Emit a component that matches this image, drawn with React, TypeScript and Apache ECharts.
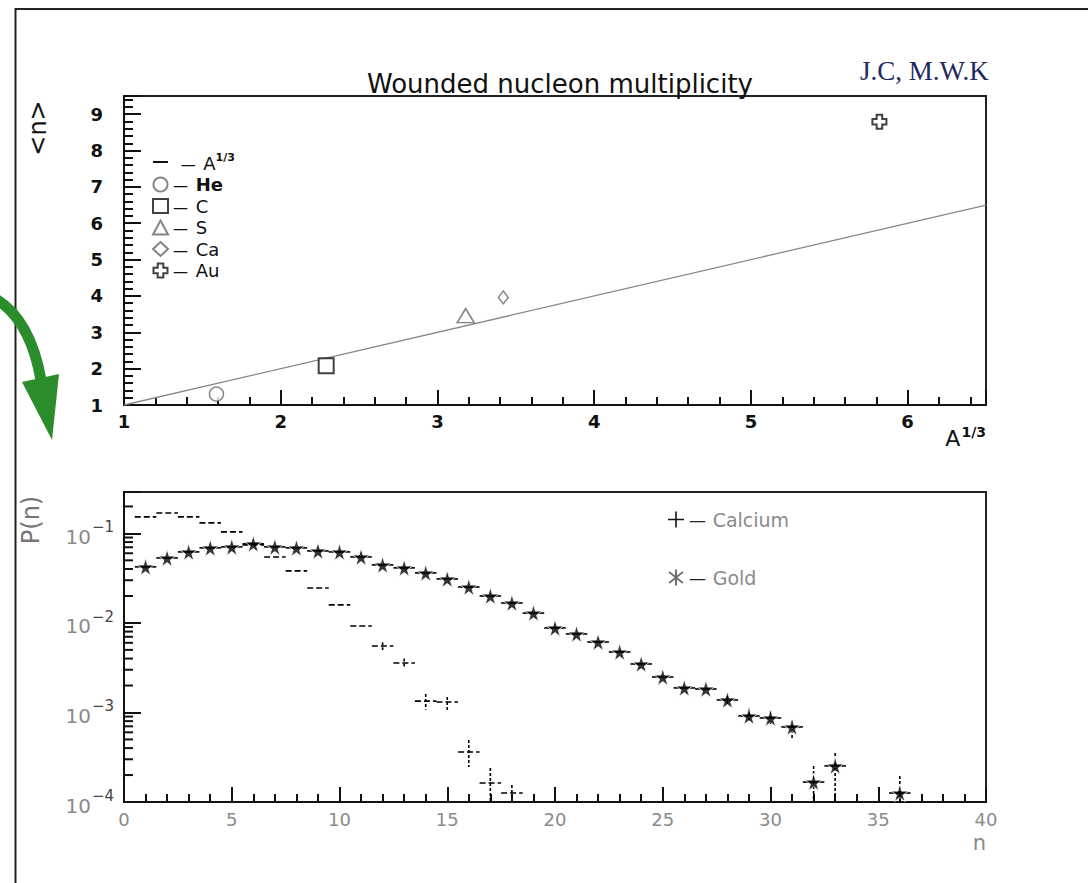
import React, { useEffect, useRef } from "react";
import * as echarts from "echarts";

// ---------- Top panel: <n> versus A^{1/3} ----------
const refLineX = [1, 6.5];
const refLineY = [1, 6.5];
const nuclei = ["He", "C", "S", "Ca", "Au"];
const nucleiA13 = [1.59, 2.29, 3.18, 3.42, 5.82];
const nucleiMeanN = [1.3, 2.08, 3.46, 3.96, 8.79];

// ---------- Bottom panel: P(n) ----------
const calciumN = [1, 2, 3, 4, 5, 6, 7, 8, 9, 10, 11, 12, 13, 14, 15, 16, 17, 18];
const calciumP = [0.153, 0.169, 0.153, 0.131, 0.104, 0.0745, 0.0546, 0.0381, 0.0246, 0.0159, 0.00924, 0.00553, 0.00357, 0.00134, 0.00131, 0.000362, 0.000163, 0.000126];
const calciumLo = [null, null, null, null, null, null, null, null, null, null, null, 0.0050, 0.0032, 0.00107, 0.00101, 0.000246, 0.0001, 0.0001];
const calciumHi = [null, null, null, null, null, null, null, null, null, null, null, 0.0061, 0.0040, 0.00161, 0.00149, 0.000493, 0.00024, 0.000155];

const goldN = [1, 2, 3, 4, 5, 6, 7, 8, 9, 10, 11, 12, 13, 14, 15, 16, 17, 18, 19, 20, 21, 22, 23, 24, 25, 26, 27, 28, 29, 30, 31, 32, 33, 36];
const goldP = [0.0423, 0.0532, 0.0621, 0.0689, 0.0707, 0.0764, 0.0707, 0.0689, 0.0637, 0.0621, 0.0546, 0.0445, 0.0412, 0.0362, 0.031, 0.0252, 0.02, 0.0167, 0.0129, 0.00879, 0.00754, 0.00613, 0.00474, 0.00348, 0.00249, 0.00188, 0.00183, 0.00138, 0.000914, 0.000868, 0.000689, 0.000167, 0.000253, 0.000126];
const goldLo = [null, null, null, null, null, null, null, null, null, null, null, null, null, null, null, null, null, null, null, null, null, null, null, null, null, null, null, 0.00118, 0.000784, 0.000744, 0.000519, 0.0001, 0.0001, 0.0001];
const goldHi = [null, null, null, null, null, null, null, null, null, null, null, null, null, null, null, null, null, null, null, null, null, null, null, null, null, null, null, 0.00153, 0.00112, 0.00104, 0.000824, 0.000253, 0.000353, 0.000195];

// log-axis minor tick positions
const logDecades = [1e-4, 1e-3, 1e-2, 1e-1];
const logMultipliers = [2, 3, 4, 5, 6, 7, 8, 9];
const pMax = 0.29;

const FONT = "DejaVu Sans";
const GRAY = "#8a8a8a";

const nucleusSymbols: Record<string, any> = {
  He: { symbol: "circle", symbolSize: 14, itemStyle: { color: "#fff", borderColor: "#666", borderWidth: 1.5 } },
  C: { symbol: "rect", symbolSize: 15, itemStyle: { color: "#fff", borderColor: "#111", borderWidth: 2 } },
  S: { symbol: "triangle", symbolSize: [17, 14], itemStyle: { color: "#fff", borderColor: "#666", borderWidth: 1.5 } },
  Ca: { symbol: "diamond", symbolSize: [10, 13], itemStyle: { color: "#fff", borderColor: "#666", borderWidth: 1.5 } },
  Au: { symbol: "path://M3,0H7V3H10V7H7V10H3V7H0V3H3Z", symbolSize: 14, itemStyle: { color: "#fff", borderColor: "#111", borderWidth: 2 } },
};

const STAR = "path://M50,0L61,35L98,35L68,57L79,91L50,70L21,91L32,57L2,35L39,35Z";
const PLUS = "path://M4.5,0H5.5V4.5H10V5.5H5.5V10H4.5V5.5H0V4.5H4.5Z";
const ASTER = "path://M4.4,0H5.6V10H4.4Z M0.4,2.1L1,1.1L9.6,7.9L9,8.9Z M0.4,7.9L9,1.1L9.6,2.1L1,8.9Z";

function errorBars(name: string, xs: number[], ys: number[], lo: (number | null)[], hi: (number | null)[], hDash: number[] | null) {
  return {
    type: "custom",
    name,
    xAxisIndex: 1,
    yAxisIndex: 1,
    clip: true,
    silent: true,
    itemStyle: { color: "#000" },
    encode: { x: 0, y: 1 },
    data: xs.map((x, i) => [x, ys[i], lo[i] == null ? ys[i] : lo[i], hi[i] == null ? ys[i] : hi[i]]),
    renderItem: (_params: any, api: any) => {
      const x = api.value(0);
      const y = api.value(1);
      const l = api.value(2);
      const h = api.value(3);
      const a = api.coord([x - 0.5, y]);
      const b = api.coord([x + 0.5, y]);
      const t = api.coord([x, h]);
      const d = api.coord([x, l]);
      const children: any[] = [
        { type: "line", shape: { x1: a[0], y1: a[1], x2: b[0], y2: b[1] }, style: { stroke: "#000", lineWidth: 1.6, lineDash: hDash || undefined } },
      ];
      if (Math.abs(d[1] - t[1]) > 1) {
        children.push({ type: "line", shape: { x1: t[0], y1: t[1], x2: d[0], y2: d[1] }, style: { stroke: "#000", lineWidth: 1.6, lineDash: [3, 2] } });
      }
      return { type: "group", children };
    },
  };
}

export default function App() {
  const ref = useRef<HTMLDivElement>(null);

  useEffect(() => {
    if (!ref.current) return;
    const chart = echarts.init(ref.current, null, { renderer: "svg" });

    const minorTickVals: number[] = [];
    logDecades.forEach((d) => logMultipliers.forEach((m) => { if (d * m <= pMax) minorTickVals.push(d * m); }));

    const topLegendFormatter = (name: string) => {
      if (name === "A1/3") return "  {d|—}  {t|A}{s|1/3}";
      if (name === "He") return "{d|—}  {b|He}";
      return "{d|—}  {t|" + name + "}";
    };

    const option: any = {
      animation: false,
      backgroundColor: "#fff",
      title: {
        text: "Wounded nucleon multiplicity",
        left: 555,
        textAlign: "center",
        top: 66,
        textStyle: { fontFamily: FONT, fontSize: 26, fontWeight: "normal", color: "#111" },
      },
      grid: [
        { left: 124, right: 102, top: 96, height: 309, show: true, borderColor: "#222", borderWidth: 2, backgroundColor: "transparent", outerBoundsMode: "none" },
        { left: 124, right: 102, top: 492, height: 310, show: true, borderColor: "#222", borderWidth: 2, backgroundColor: "transparent", outerBoundsMode: "none" },
      ],
      xAxis: [
        {
          type: "value", gridIndex: 0, min: 1, max: 6.5, interval: 1,
          axisLine: { lineStyle: { color: "#111", width: 2 } },
          axisTick: { inside: true, length: 15, lineStyle: { color: "#111", width: 2 } },
          minorTick: { show: true, splitNumber: 5, length: 8, lineStyle: { color: "#111", width: 2 } },
          splitLine: { show: false },
          axisLabel: { margin: 7, color: "#111", fontFamily: FONT, fontSize: 18, fontWeight: "bold", showMaxLabel: false, formatter: (v: number) => (Number.isInteger(v) ? String(v) : "") },
          name: "{a|A}{s|1/3}",
          nameLocation: "end",
          nameGap: 0,
          nameMoveOverlap: false,
          nameTextStyle: {
            align: "right", verticalAlign: "top", padding: [20, 0, 0, 0],
            rich: {
              a: { fontFamily: FONT, fontSize: 22, color: "#111", verticalAlign: "bottom" },
              s: { fontFamily: FONT, fontSize: 14, color: "#111", fontWeight: "bold", verticalAlign: "bottom", padding: [0, 0, 10, 1] },
            },
          },
        },
        {
          type: "value", gridIndex: 1, min: 0, max: 40, interval: 5,
          axisLine: { lineStyle: { color: "#111", width: 2 } },
          axisTick: { inside: true, length: 15, lineStyle: { color: "#111", width: 2 } },
          minorTick: { show: true, splitNumber: 5, length: 8, lineStyle: { color: "#111", width: 2 } },
          splitLine: { show: false },
          axisLabel: { margin: 8, color: GRAY, fontFamily: FONT, fontSize: 18 },
          name: "n",
          nameLocation: "end",
          nameGap: 0,
          nameMoveOverlap: false,
          nameTextStyle: { align: "right", verticalAlign: "top", padding: [30, 0, 0, 0], color: GRAY, fontFamily: FONT, fontSize: 21 },
        },
      ],
      yAxis: [
        {
          type: "value", gridIndex: 0, min: 1, max: 9.5, interval: 1,
          axisLine: { lineStyle: { color: "#111", width: 2 } },
          axisTick: { inside: true, length: 17, lineStyle: { color: "#111", width: 2 } },
          minorTick: { show: true, splitNumber: 5, length: 9, lineStyle: { color: "#111", width: 2 } },
          splitLine: { show: false },
          axisLabel: { margin: 21, color: "#111", fontFamily: FONT, fontSize: 18, fontWeight: "bold", formatter: (v: number) => (Number.isInteger(v) ? String(v) : "") },
        },
        {
          type: "log", gridIndex: 1, logBase: 10, min: 1e-4, max: pMax,
          axisLine: { lineStyle: { color: "#111", width: 2 } },
          axisTick: { inside: true, length: 17, lineStyle: { color: "#111", width: 2 } },
          minorTick: { show: false },
          splitLine: { show: false },
          axisLabel: {
            margin: 10,
            formatter: (v: number) => {
              const e = Math.log10(v);
              if (Math.abs(e - Math.round(e)) > 1e-6) return "";
              return "{b|10}{s|−" + String(-Math.round(e)) + "}";
            },
            rich: {
              b: { fontFamily: FONT, fontSize: 20, color: GRAY, verticalAlign: "bottom" },
              s: { fontFamily: FONT, fontSize: 15, color: "#444", verticalAlign: "bottom", padding: [0, 0, 12, 1] },
            },
          },
        },
      ],
      legend: [
        {
          show: true,
          selectedMode: false,
          orient: "vertical",
          left: 147,
          top: 147,
          itemWidth: 15,
          itemHeight: 14,
          itemGap: 3.5,
          data: [
            { name: "A1/3", icon: "path://M0,0H10V1.3H0Z", itemStyle: { color: "#111", borderWidth: 0 } },
            { name: "He" },
            { name: "C" },
            { name: "S" },
            { name: "Ca" },
            { name: "Au" },
          ],
          formatter: topLegendFormatter,
          textStyle: {
            fontFamily: FONT,
            rich: {
              d: { fontFamily: FONT, fontSize: 15, color: "#111", verticalAlign: "bottom" },
              t: { fontFamily: FONT, fontSize: 18, color: "#111", verticalAlign: "bottom" },
              b: { fontFamily: FONT, fontSize: 18, fontWeight: "bold", color: "#111", verticalAlign: "bottom" },
              s: { fontFamily: FONT, fontSize: 11, fontWeight: "bold", color: "#111", verticalAlign: "bottom", padding: [0, 0, 9, 0] },
            },
          },
        },
        {
          show: true,
          selectedMode: false,
          orient: "vertical",
          left: 663,
          top: 505,
          itemWidth: 16,
          itemHeight: 16,
          itemGap: 39,
          data: [
            { name: "Calcium", icon: PLUS, itemStyle: { color: "#111", borderWidth: 0 } },
            { name: "Gold", icon: ASTER, itemStyle: { color: "#444", borderWidth: 0 } },
          ],
          formatter: (name: string) => "{d|—}  {t|" + name + "}",
          textStyle: {
            rich: {
              d: { fontFamily: FONT, fontSize: 17, color: "#222" },
              t: { fontFamily: FONT, fontSize: 19, color: GRAY },
            },
          },
        },
      ],
      series: [
        {
          type: "line",
          name: "A1/3",
          xAxisIndex: 0,
          yAxisIndex: 0,
          data: refLineX.map((x, i) => [x, refLineY[i]]),
          showSymbol: false,
          symbol: "none",
          lineStyle: { color: "#888", width: 1.3 },
          itemStyle: { color: "#888" },
          silent: true,
        },
        ...nuclei.map((name, i) => ({
          type: "scatter",
          name,
          xAxisIndex: 0,
          yAxisIndex: 0,
          data: [[nucleiA13[i], nucleiMeanN[i]]],
          ...nucleusSymbols[name],
          z: 5,
        })),
        errorBars("Calcium", calciumN, calciumP, calciumLo, calciumHi, [6, 3]),
        errorBars("Gold errors", goldN, goldP, goldLo, goldHi, null),
        {
          type: "scatter",
          name: "Gold",
          xAxisIndex: 1,
          yAxisIndex: 1,
          data: goldN.map((n, i) => [n, goldP[i]]),
          symbol: STAR,
          symbolSize: 17,
          itemStyle: { color: "#000", borderColor: "#fff", borderWidth: 1 },
          z: 6,
        },
        {
          type: "custom",
          name: "log minor ticks",
          xAxisIndex: 1,
          yAxisIndex: 1,
          silent: true,
          data: minorTickVals.map((v) => [0, v]),
          encode: { x: 0, y: 1 },
          renderItem: (_p: any, api: any) => {
            const c = api.coord([api.value(0), api.value(1)]);
            return { type: "line", shape: { x1: c[0], y1: c[1], x2: c[0] + 9, y2: c[1] }, style: { stroke: "#111", lineWidth: 2 } };
          },
        },
      ],
      graphic: [
        { type: "line", shape: { x1: 15.5, y1: 8, x2: 15.5, y2: 883 }, style: { stroke: "#222", lineWidth: 2 } },
        { type: "line", shape: { x1: 15, y1: 9, x2: 1088, y2: 9 }, style: { stroke: "#222", lineWidth: 2 } },
        {
          type: "text",
          x: 860,
          y: 71,
          style: { text: "J.C, M.W.K", font: "27px 'Liberation Serif'", fill: "#1e2a5e", verticalAlign: "middle", align: "left" },
        },
        {
          type: "text",
          x: 38,
          y: 128,
          rotation: Math.PI / 2,
          style: { text: "<n>", font: "24px 'DejaVu Sans'", fill: "#111", align: "center", verticalAlign: "middle" },
        },
        {
          type: "text",
          x: 31,
          y: 520,
          rotation: Math.PI / 2,
          style: { text: "P(n)", font: "24px 'DejaVu Sans'", fill: "#777", align: "center", verticalAlign: "middle" },
        },
        {
          type: "bezierCurve",
          shape: { x1: -6, y1: 298, cpx1: 30, cpy1: 318, x2: 41, y2: 380 },
          style: { stroke: "#2b8c2b", lineWidth: 11, fill: "none" },
        },
        {
          type: "polygon",
          shape: { points: [[22, 382], [59, 374], [52, 440]] },
          style: { fill: "#2b8c2b" },
        },
      ],
    };

    chart.setOption(option);
    return () => chart.dispose();
  }, []);

  return <div ref={ref} style={{ position: "absolute", left: 0, top: 0, width: 1088, height: 883 }} />;
}
